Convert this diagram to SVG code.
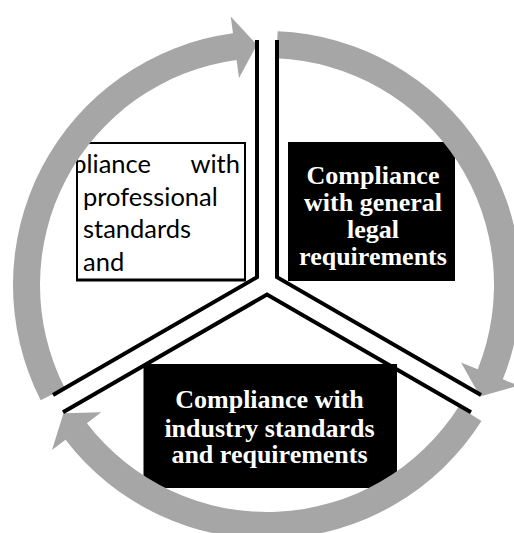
<svg xmlns="http://www.w3.org/2000/svg" width="514" height="533" viewBox="0 0 514 533">
  <style>
    .arrow { fill: #A6A6A6; }
    .divider { fill: none; stroke: #000; stroke-width: 4; stroke-linejoin: miter; }
    .box-dark { fill: #000; }
    .box-light { fill: #fff; stroke: #000; stroke-width: 2; }
    .serif { font-family: "Liberation Serif", "Times New Roman", serif; font-weight: bold; font-size: 26px; fill: #fff; text-anchor: middle; }
    .sans { font-family: Lato, "Liberation Sans", sans-serif; font-size: 25.5px; fill: #000; }
  </style>
  <defs>
    <clipPath id="clipLight">
      <rect x="78" y="144" width="166" height="135"/>
    </clipPath>
  </defs>
  <rect width="514" height="533" fill="#fff"/>

  <g id="node-professional">
    <rect class="box-light" x="77" y="143" width="168" height="137"/>
    <line x1="76" y1="280" x2="246" y2="280" stroke="#000" stroke-width="3"/>
    <g clip-path="url(#clipLight)">
      <text class="sans" x="151" y="173" text-anchor="end">Compliance</text>
      <text class="sans" x="240" y="173" text-anchor="end">with</text>
      <text class="sans" x="83" y="205.5">professional</text>
      <text class="sans" x="83" y="238">standards</text>
      <text class="sans" x="83" y="270.5">and</text>
    </g>
  </g>

  <g id="node-legal">
    <rect class="box-dark" x="288" y="142" width="167" height="139"/>
    <text class="serif" x="373" y="183.5">Compliance</text>
    <text class="serif" x="373" y="211">with general</text>
    <text class="serif" x="373" y="238">legal</text>
    <text class="serif" x="373" y="265.3">requirements</text>
  </g>

  <g id="node-industry">
    <rect class="box-dark" x="143.5" y="364" width="253.5" height="124"/>
    <text class="serif" x="269.5" y="408.3">Compliance with</text>
    <text class="serif" x="269.5" y="436.7">industry standards</text>
    <text class="serif" x="269.5" y="463.3">and requirements</text>
  </g>

  <g id="connectors">
    <path class="arrow" d="M40.68 400.31 A254 254 0 0 1 232.97 33.29 L230.69 16.44 L256.93 44.71 L239.0 77.89 L236.58 60.05 A227 227 0 0 0 64.74 388.06 Z"/>
    <path class="arrow" d="M277.64 31.22 A254 254 0 0 1 502.84 379.33 L518.62 385.64 L480.13 396.42 L461.05 362.62 L477.77 369.30 A227 227 0 0 0 276.51 58.20 Z"/>
    <path class="arrow" d="M481.46 421.10 A254 254 0 0 1 65.49 439.63 L52.0 449.97 L63.49 413.16 L101.19 412.23 L86.91 423.19 A227 227 0 0 0 458.66 406.63 Z"/>

    <path class="divider" d="M257 40 V277.2 L53 395"/>
    <path class="divider" d="M277 40 V277.2 L481 395"/>
    <path class="divider" d="M63 412.3 L267 294.5 L471 412.3"/>
  </g>
</svg>
